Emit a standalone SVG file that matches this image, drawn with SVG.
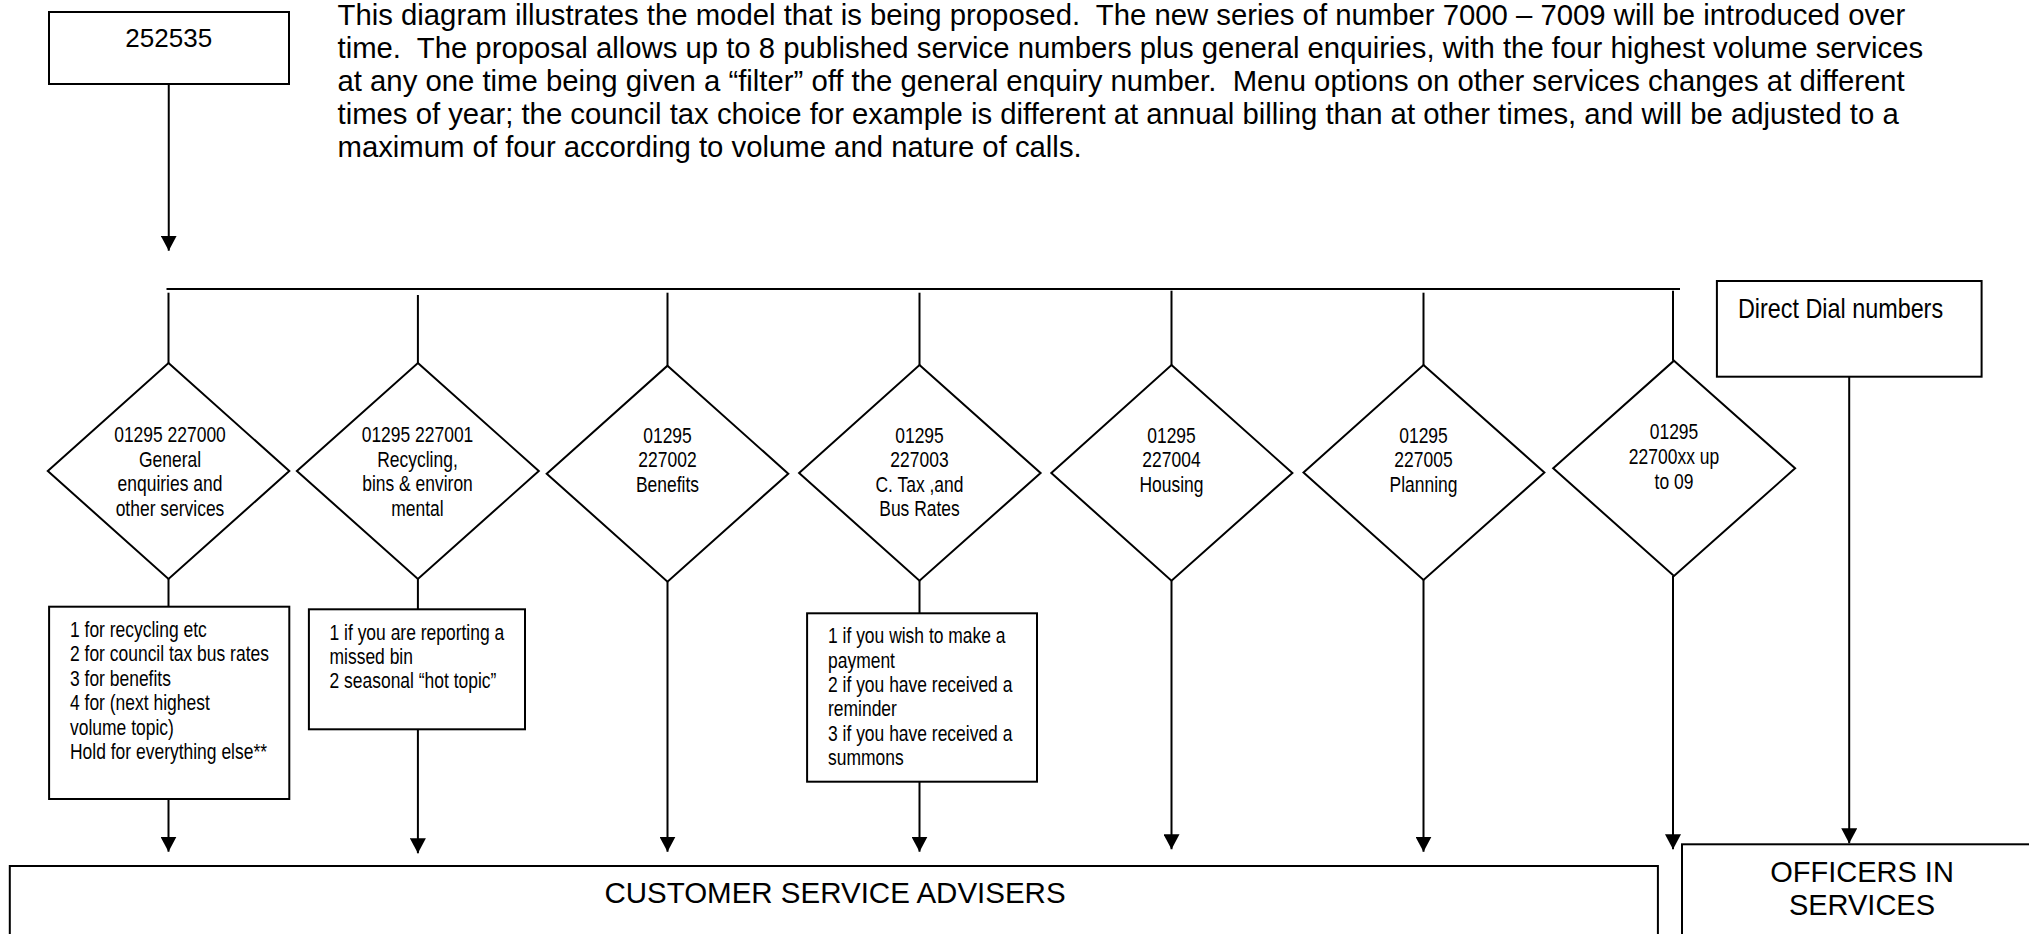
<svg xmlns="http://www.w3.org/2000/svg" width="2029" height="934" viewBox="0 0 2029 934">
<style>
.box{fill:#fff;stroke:#000;stroke-width:2}
.ln{stroke:#000;stroke-width:2;fill:none}
.arr{marker-end:url(#ah)}
text{font-family:"Liberation Sans",Arial,sans-serif;fill:#000}
.big{font-size:29px}
.n{font-size:21.3px}
.mid{text-anchor:middle}
</style>
<defs>
<marker id="ah" viewBox="0 0 15 16" refX="15" refY="8" markerWidth="15" markerHeight="16" markerUnits="userSpaceOnUse" orient="auto">
<path d="M0,0 L15,8 L0,16 z" fill="#000"/>
</marker>
</defs>
<rect width="2029" height="934" fill="#fff"/>

<g id="intro">
<text x="337.5" font-size="29.3" xml:space="preserve"><tspan x="337.5" y="24.5">This diagram illustrates the model that is being proposed.  The new series of number 7000 – 7009 will be introduced over</tspan><tspan x="337.5" y="57.6">time.  The proposal allows up to 8 published service numbers plus general enquiries, with the four highest volume services</tspan><tspan x="337.5" y="90.7">at any one time being given a “filter” off the general enquiry number.  Menu options on other services changes at different</tspan><tspan x="337.5" y="123.8">times of year; the council tax choice for example is different at annual billing than at other times, and will be adjusted to a</tspan><tspan x="337.5" y="156.9">maximum of four according to volume and nature of calls.</tspan></text>
</g>

<g id="connectors">
<line class="ln arr" x1="168.75" y1="84" x2="168.75" y2="250.7"/>
<line class="ln" x1="166.5" y1="289" x2="1680" y2="289"/>
<line class="ln" x1="168.5" y1="292.7" x2="168.5" y2="363"/>
<line class="ln" x1="417.9" y1="295" x2="417.9" y2="363"/>
<line class="ln" x1="667.5" y1="292.7" x2="667.5" y2="365.7"/>
<line class="ln" x1="919.5" y1="292.7" x2="919.5" y2="365"/>
<line class="ln" x1="1171.5" y1="290.7" x2="1171.5" y2="365"/>
<line class="ln" x1="1423.5" y1="292.7" x2="1423.5" y2="365"/>
<line class="ln" x1="1673" y1="290.7" x2="1673" y2="360.7"/>
<line class="ln" x1="168.5" y1="579" x2="168.5" y2="606.7"/>
<line class="ln arr" x1="168.5" y1="799" x2="168.5" y2="851.7"/>
<line class="ln" x1="417.9" y1="579" x2="417.9" y2="609.3"/>
<line class="ln arr" x1="417.9" y1="729.3" x2="417.9" y2="853.3"/>
<line class="ln arr" x1="667.5" y1="581.7" x2="667.5" y2="851.7"/>
<line class="ln" x1="919.5" y1="580.7" x2="919.5" y2="613.3"/>
<line class="ln arr" x1="919.5" y1="781.7" x2="919.5" y2="851.7"/>
<line class="ln arr" x1="1171.5" y1="580.7" x2="1171.5" y2="849.3"/>
<line class="ln arr" x1="1423.5" y1="580" x2="1423.5" y2="851.7"/>
<line class="ln arr" x1="1673" y1="576" x2="1673" y2="849.3"/>
<line class="ln arr" x1="1849.2" y1="376.7" x2="1849.2" y2="843.3"/>
</g>

<g id="n252535">
<rect class="box" x="49" y="12" width="240" height="72"/>
<text class="mid" x="168.75" y="47.3" font-size="26">252535</text>
</g>

<g id="d1">
<path class="box" d="M168.5,363 L289.3,471 L168.5,579 L47.8,471 Z"/>
<text class="n mid" transform="translate(170,0) scale(0.82,1)"><tspan x="0" y="442">01295 227000</tspan><tspan x="0" y="467">General</tspan><tspan x="0" y="491.5">enquiries and</tspan><tspan x="0" y="516">other services</tspan></text>
</g>
<g id="d2">
<path class="box" d="M417.9,363 L538.8,471 L417.9,579 L296.9,471 Z"/>
<text class="n mid" transform="translate(417.5,0) scale(0.82,1)"><tspan x="0" y="442">01295 227001</tspan><tspan x="0" y="467">Recycling,</tspan><tspan x="0" y="491.5">bins &amp; environ</tspan><tspan x="0" y="516">mental</tspan></text>
</g>
<g id="d3">
<path class="box" d="M667.5,365.7 L788.3,473.7 L667.5,581.7 L546.7,473.7 Z"/>
<text class="n mid" transform="translate(667.5,0) scale(0.82,1)"><tspan x="0" y="442.7">01295</tspan><tspan x="0" y="467.3">227002</tspan><tspan x="0" y="491.7">Benefits</tspan></text>
</g>
<g id="d4">
<path class="box" d="M919.5,365 L1040.6,473 L919.5,580.7 L799.1,473 Z"/>
<text class="n mid" transform="translate(919.5,0) scale(0.82,1)"><tspan x="0" y="442.7">01295</tspan><tspan x="0" y="467.3">227003</tspan><tspan x="0" y="491.7">C. Tax ,and</tspan><tspan x="0" y="516">Bus Rates</tspan></text>
</g>
<g id="d5">
<path class="box" d="M1171.5,365 L1292.4,473 L1171.5,580.7 L1051.3,473 Z"/>
<text class="n mid" transform="translate(1171.5,0) scale(0.82,1)"><tspan x="0" y="442.7">01295</tspan><tspan x="0" y="467.3">227004</tspan><tspan x="0" y="491.7">Housing</tspan></text>
</g>
<g id="d6">
<path class="box" d="M1423.5,365 L1544.4,472.5 L1423.5,580 L1303.5,472.5 Z"/>
<text class="n mid" transform="translate(1423.5,0) scale(0.82,1)"><tspan x="0" y="442.7">01295</tspan><tspan x="0" y="467.3">227005</tspan><tspan x="0" y="491.7">Planning</tspan></text>
</g>
<g id="d7">
<path class="box" d="M1674,360.7 L1795.1,468.3 L1674,576 L1553.2,468.3 Z"/>
<text class="n mid" transform="translate(1674,0) scale(0.82,1)"><tspan x="0" y="439.3">01295</tspan><tspan x="0" y="464.3">22700xx up</tspan><tspan x="0" y="489.3">to 09</tspan></text>
</g>

<g id="direct">
<rect class="box" x="1716.9" y="281" width="264.7" height="95.7"/>
<text font-size="28.5" transform="translate(1738,0) scale(0.82,1)"><tspan x="0" y="318.3">Direct Dial numbers</tspan></text>
</g>

<g id="menu1">
<rect class="box" x="49.1" y="606.7" width="240.2" height="192.3"/>
<text class="n" transform="translate(70,0) scale(0.82,1)"><tspan x="0" y="636.7">1 for recycling etc</tspan><tspan x="0" y="661.2">2 for council tax bus rates</tspan><tspan x="0" y="685.7">3 for benefits</tspan><tspan x="0" y="710.2">4 for (next highest</tspan><tspan x="0" y="734.7">volume topic)</tspan><tspan x="0" y="759.2">Hold for everything else**</tspan></text>
</g>
<g id="menu2">
<rect class="box" x="308.9" y="609.3" width="216.1" height="120"/>
<text class="n" transform="translate(329.5,0) scale(0.82,1)"><tspan x="0" y="640">1 if you are reporting a</tspan><tspan x="0" y="664.2">missed bin</tspan><tspan x="0" y="688.4">2 seasonal “hot topic”</tspan></text>
</g>
<g id="menu4">
<rect class="box" x="807.1" y="613.3" width="229.9" height="168.4"/>
<text class="n" transform="translate(828,0) scale(0.82,1)"><tspan x="0" y="643.3">1 if you wish to make a</tspan><tspan x="0" y="667.7">payment</tspan><tspan x="0" y="692.1">2 if you have received a</tspan><tspan x="0" y="716.5">reminder</tspan><tspan x="0" y="740.9">3 if you have received a</tspan><tspan x="0" y="765.3">summons</tspan></text>
</g>

<g id="csa">
<rect class="box" x="9.8" y="866" width="1648.1" height="100"/>
<text class="mid" x="835" y="903" font-size="29.5">CUSTOMER SERVICE ADVISERS</text>
</g>
<g id="officers">
<rect class="box" x="1682" y="844.3" width="380" height="120"/>
<text class="big mid"><tspan x="1862" y="881.7">OFFICERS IN</tspan><tspan x="1862" y="915">SERVICES</tspan></text>
</g>
</svg>
